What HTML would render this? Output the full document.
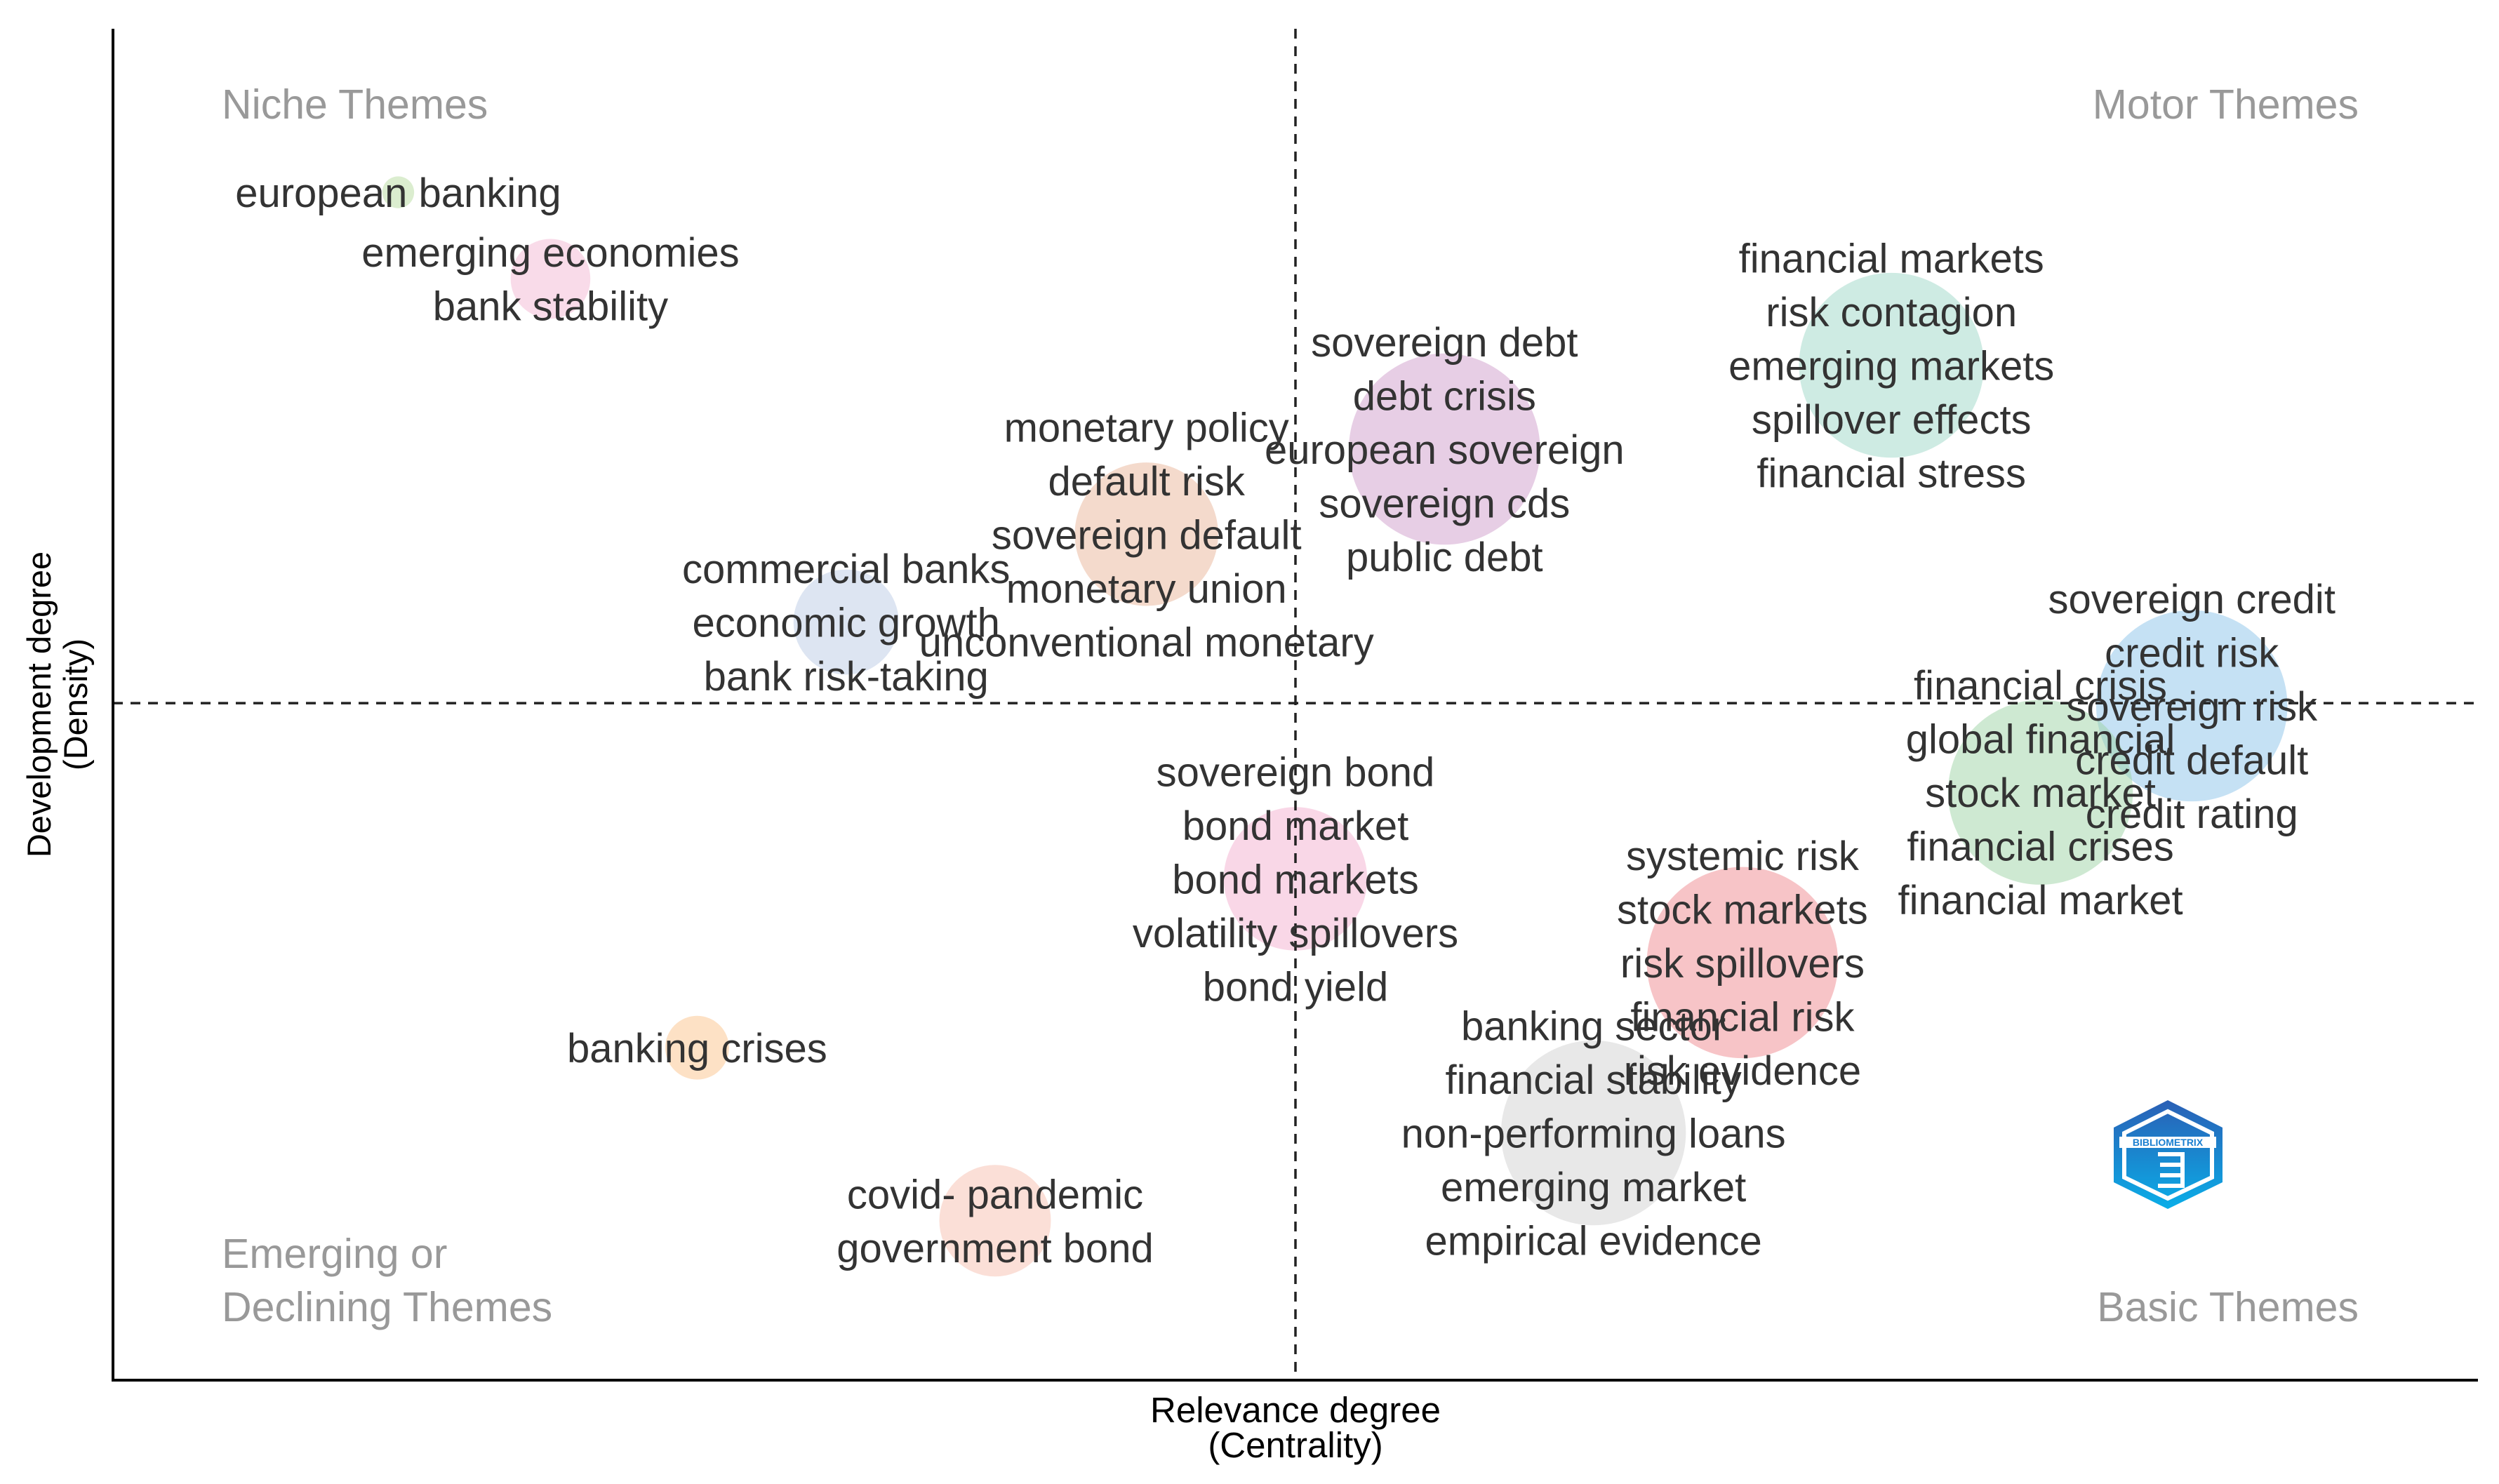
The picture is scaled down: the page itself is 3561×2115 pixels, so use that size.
<!DOCTYPE html>
<html><head><meta charset="utf-8"><style>
html,body{margin:0;padding:0;background:#fff;}
svg{display:block;}
text{font-family:"Liberation Sans",Arial,sans-serif;}
</style></head><body>
<svg id="chart" width="3561" height="2115" viewBox="0 0 3561 2115" xmlns="http://www.w3.org/2000/svg">
<g id="bubbles"></g>
<g id="labels"></g>
<line x1="161" y1="41" x2="161" y2="1968" stroke="#000" stroke-width="4"/>
<line x1="159" y1="1967" x2="3531" y2="1967" stroke="#000" stroke-width="4"/>
<g id="quad">
<text x="316" y="169" font-size="59" fill="#999">Niche Themes</text>
<text x="3361" y="169" font-size="59" fill="#999" text-anchor="end">Motor Themes</text>
<text x="316" y="1807" font-size="59" fill="#999">Emerging or</text>
<text x="316" y="1883" font-size="59" fill="#999">Declining Themes</text>
<text x="3361" y="1883" font-size="59" fill="#999" text-anchor="end">Basic Themes</text>
</g>
<text x="1846" y="2027" font-size="51" fill="#000" text-anchor="middle">Relevance degree</text>
<text x="1846" y="2077" font-size="51" fill="#000" text-anchor="middle">(Centrality)</text>
<text transform="translate(72,1004) rotate(-90)" font-size="47" fill="#000" text-anchor="middle">Development degree</text>
<text transform="translate(124,1004) rotate(-90)" font-size="47" fill="#000" text-anchor="middle">(Density)</text>
<g>
<defs><linearGradient id="lg" x1="0" y1="0" x2="0" y2="1"><stop offset="0" stop-color="#2a5fb5"/><stop offset="1" stop-color="#0aaee8"/></linearGradient></defs>
<polygon points="3089,1568 3167,1607 3167,1685 3089,1723 3012,1685 3012,1607" fill="url(#lg)"/>
<polygon points="3089,1584 3152,1615 3152,1678 3089,1708 3027,1678 3027,1615" fill="none" stroke="#fff" stroke-width="6"/>
<rect x="3020" y="1620" width="138" height="16" fill="#fff"/>
<text x="3089" y="1633" font-size="14" font-weight="bold" fill="#1a7fd0" text-anchor="middle">BIBLIOMETRIX</text>
<path d="M3075,1645 h35 v45 h-35 M3078,1660 h30 M3078,1675 h30" stroke="#fff" stroke-width="6" fill="none"/>
</g>
</svg>
<script>
const themeNames = ["european banking","bank stability","default risk","commercial banks","sovereign debt","financial markets","sovereign credit","financial crisis","sovereign bond","systemic risk","banking crises","banking sector","covid- pandemic"];
const centrality = [12.06,18.5,43.7,31.0,56.3,75.2,87.9,81.5,50.0,68.9,24.7,62.6,37.3];
const density = [87.9,81.5,62.6,56.1,68.9,75.1,49.9,43.5,37.1,30.9,24.6,18.3,11.8];
const bubbleSize = [10,25,45,33,60,58,60,58,45,60,20,58,35];
const bubbleColors = ["#b8dca0","#f4b8d4","#eab69a","#bccbe6","#cf9ecb","#9ed8c8","#8cc4ea","#9ed4a6","#f4b0d0","#f08a90","#fcc48c","#d2d2d2","#f8c0b0"];
const themeWords = [
 ["european banking"],
 ["emerging economies","bank stability"],
 ["monetary policy","default risk","sovereign default","monetary union","unconventional monetary"],
 ["commercial banks","economic growth","bank risk-taking"],
 ["sovereign debt","debt crisis","european sovereign","sovereign cds","public debt"],
 ["financial markets","risk contagion","emerging markets","spillover effects","financial stress"],
 ["sovereign credit","credit risk","sovereign risk","credit default","credit rating"],
 ["financial crisis","global financial","stock market","financial crises","financial market"],
 ["sovereign bond","bond market","bond markets","volatility spillovers","bond yield"],
 ["systemic risk","stock markets","risk spillovers","financial risk","risk evidence"],
 ["banking crises"],
 ["banking sector","financial stability","non-performing loans","emerging market","empirical evidence"],
 ["covid- pandemic","government bond"]
];
const xRefLine = 50.0;
const yRefLine = 50.1;

const X0=161, X1=3531, Y0=1967, Y1=41;
function xScale(v){return X0+(X1-X0)*v/100;}
function yScale(v){return Y0-(Y0-Y1)*v/100;}
function rScale(v){return v*2.271;}
const NS="http://www.w3.org/2000/svg";
const bg=document.getElementById('bubbles');
const lg=document.getElementById('labels');

for(let i=0;i<themeNames.length;i++){
  const c=document.createElementNS(NS,'circle');
  c.setAttribute('cx',xScale(centrality[i]));
  c.setAttribute('cy',yScale(density[i]));
  c.setAttribute('r',rScale(bubbleSize[i]));
  c.setAttribute('fill',bubbleColors[i]);
  c.setAttribute('fill-opacity','0.5');
  
  
  bg.appendChild(c);
}
const vl=document.createElementNS(NS,'line');
vl.setAttribute('x1',xScale(xRefLine));vl.setAttribute('x2',xScale(xRefLine));
vl.setAttribute('y1',Y1);vl.setAttribute('y2',Y0);
vl.setAttribute('stroke','#222');vl.setAttribute('stroke-width','3.5');vl.setAttribute('stroke-dasharray','14 11');


bg.appendChild(vl);
const hl=document.createElementNS(NS,'line');
hl.setAttribute('x1',X0);hl.setAttribute('x2',X1);
hl.setAttribute('y1',yScale(yRefLine));hl.setAttribute('y2',yScale(yRefLine));
hl.setAttribute('stroke','#222');hl.setAttribute('stroke-width','3.5');hl.setAttribute('stroke-dasharray','14 11');


bg.appendChild(hl);

const LH=76.5;
for(let i=0;i<themeNames.length;i++){
  const words=themeWords[i];
  const cx=xScale(centrality[i]), cy=yScale(density[i]);
  for(let j=0;j<words.length;j++){
    const t=document.createElementNS(NS,'text');
    const y=cy+(j-(words.length-1)/2)*LH+21;
    t.setAttribute('x',cx);
    t.setAttribute('y',y);
    t.setAttribute('text-anchor','middle');
    t.setAttribute('font-size','58');
    t.setAttribute('fill','#333');
    t.textContent=words[j];
    
    
    lg.appendChild(t);
  }
}
</script>
</body></html>
